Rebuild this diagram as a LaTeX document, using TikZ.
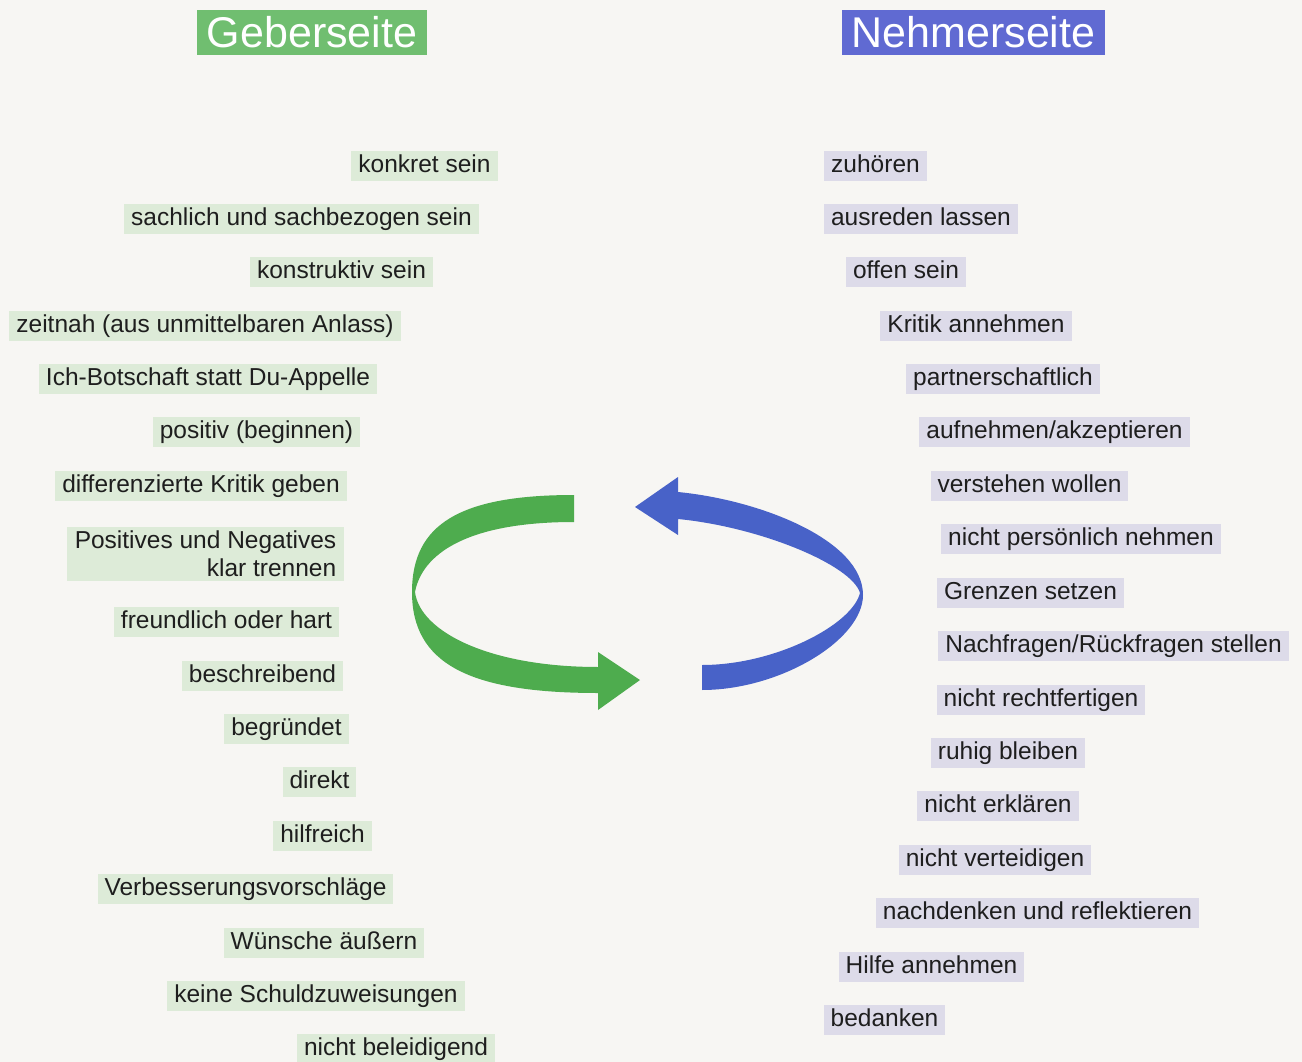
\documentclass[tikz,border=0pt]{standalone}
\usepackage{fontspec}
\setmainfont{Liberation Sans}
\definecolor{bgc}{RGB}{247,246,243}
\definecolor{txt}{RGB}{30,30,30}
\definecolor{gfill}{RGB}{221,235,216}
\definecolor{bfill}{RGB}{221,219,233}
\definecolor{ghead}{RGB}{112,190,112}
\definecolor{bhead}{RGB}{96,106,210}
\definecolor{garrow}{RGB}{78,172,78}
\definecolor{barrow}{RGB}{72,98,200}
\begin{document}
\begin{tikzpicture}[x=1pt,y=1pt,
  item/.style={font=\fontsize{24.5}{28}\selectfont, text=txt, inner xsep=7pt, inner ysep=3pt, text height=18pt, text depth=5.5pt},
  gitem/.style={item, fill=gfill},
  bitem/.style={item, fill=bfill},
  head/.style={font=\fontsize{43}{48}\selectfont, text=white, minimum height=45pt, inner xsep=6pt, text height=31pt, text depth=1pt}
]
\useasboundingbox (0,0) rectangle (1302,-1062);
\fill[bgc] (0,0) rectangle (1302,-1062);

% headers
\node[head, fill=ghead, minimum width=230pt] (hg) at (312,-32.5) {Geberseite};
\node[head, fill=bhead, minimum width=263pt] (hn) at (973.5,-32.5) {Nehmerseite};

% Geberseite
\node[gitem] (g1) at (424.5,-166) {konkret sein};
\node[gitem] (g2) at (301.5,-219) {sachlich und sachbezogen sein};
\node[gitem] (g3) at (341.5,-272) {konstruktiv sein};
\node[gitem] (g4) at (205,-326) {zeitnah (aus unmittelbaren Anlass)};
\node[gitem] (g5) at (208,-379) {Ich-Botschaft statt Du-Appelle};
\node[gitem] (g6) at (256.5,-432) {positiv (beginnen)};
\node[gitem] (g7) at (201,-486) {differenzierte Kritik geben};
\node[font=\fontsize{24.5}{28}\selectfont, text=txt, fill=gfill, inner xsep=8pt, inner ysep=4.5pt, align=right] (g8) at (205.5,-554) {Positives und Negatives\\klar trennen};
\node[gitem] (g9) at (226.5,-622) {freundlich oder hart};
\node[gitem] (g10) at (262.5,-676) {beschreibend};
\node[gitem] (g11) at (286.5,-729) {begründet};
\node[gitem] (g12) at (319.5,-782) {direkt};
\node[gitem] (g13) at (322.5,-836) {hilfreich};
\node[gitem] (g14) at (245.5,-889) {Verbesserungsvorschläge};
\node[gitem] (g15) at (324,-943) {Wünsche äußern};
\node[gitem] (g16) at (316,-996) {keine Schuldzuweisungen};
\node[gitem] (g17) at (396,-1049) {nicht beleidigend};

% Nehmerseite
\node[bitem] (n1) at (875.5,-166) {zuhören};
\node[bitem] (n2) at (921,-219) {ausreden lassen};
\node[bitem] (n3) at (906,-272) {offen sein};
\node[bitem] (n4) at (976,-326) {Kritik annehmen};
\node[bitem] (n5) at (1003,-379) {partnerschaftlich};
\node[bitem] (n6) at (1054.5,-432) {aufnehmen/akzeptieren};
\node[bitem] (n7) at (1029.5,-486) {verstehen wollen};
\node[bitem] (n8) at (1081,-539) {nicht persönlich nehmen};
\node[bitem] (n9) at (1030.5,-593) {Grenzen setzen};
\node[bitem] (n10) at (1113.5,-646) {Nachfragen/Rückfragen stellen};
\node[bitem] (n11) at (1041,-700) {nicht rechtfertigen};
\node[bitem] (n12) at (1008,-753) {ruhig bleiben};
\node[bitem] (n13) at (998,-806) {nicht erklären};
\node[bitem] (n14) at (995,-860) {nicht verteidigen};
\node[bitem] (n15) at (1037.5,-913) {nachdenken und reflektieren};
\node[bitem] (n16) at (931.5,-967) {Hilfe annehmen};
\node[bitem] (n17) at (884.5,-1020) {bedanken};

% green cycle arrow (twisted ribbon)
\fill[garrow] (574,-495) .. controls (460,-495) and (412,-524) .. (412,-592)
  .. controls (412,-663) and (468,-693) .. (598,-693)
  -- (598,-710) -- (640,-680) -- (598,-652) -- (598,-667)
  .. controls (490,-667) and (420,-632) .. (415,-592)
  .. controls (422,-555) and (465,-522) .. (574,-522) -- cycle;

% blue cycle arrow (twisted ribbon)
\fill[barrow] (702,-690) .. controls (780,-690) and (863,-640) .. (863,-595)
  .. controls (863,-540) and (760,-500) .. (678,-492)
  -- (678,-477) -- (635,-507) -- (678,-535) -- (678,-519)
  .. controls (760,-527) and (852,-565) .. (860,-593)
  .. controls (852,-625) and (775,-665) .. (702,-665) -- cycle;
\end{tikzpicture}
\end{document}
